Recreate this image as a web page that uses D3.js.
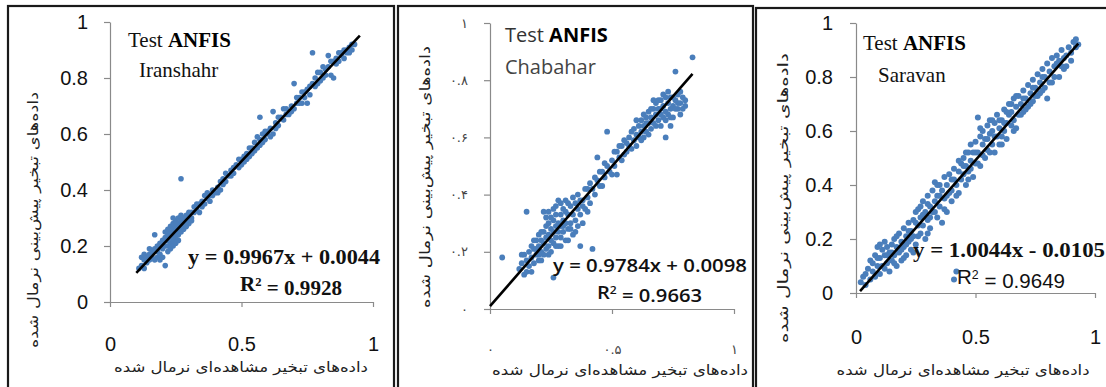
<!DOCTYPE html>
<html>
<head>
<meta charset="utf-8">
<script src="https://cdn.jsdelivr.net/npm/d3@7"></script>
<style>
  body { margin: 0; background: #fff; }
  svg { display: block; }
</style>
</head>
<body>
<div id="chart"></div>
<script>
var iranshahrPts = [
  [0.11,0.12],[0.12,0.13],[0.12,0.16],[0.13,0.15],[0.13,0.17],[0.14,0.14],[0.14,0.16],[0.15,0.17],[0.15,0.15],[0.16,0.18],
  [0.16,0.16],[0.17,0.24],[0.17,0.19],[0.18,0.16],[0.18,0.2],[0.19,0.17],[0.19,0.21],[0.2,0.19],[0.2,0.16],[0.21,0.13],
  [0.2,0.22],[0.21,0.2],[0.21,0.23],[0.22,0.2],[0.22,0.24],[0.22,0.22],[0.23,0.21],[0.23,0.25],[0.23,0.27],[0.24,0.22],
  [0.24,0.26],[0.24,0.24],[0.24,0.28],[0.25,0.23],[0.25,0.27],[0.25,0.25],[0.25,0.29],[0.26,0.24],[0.26,0.26],[0.26,0.3],
  [0.26,0.28],[0.27,0.25],[0.27,0.27],[0.27,0.29],[0.27,0.44],[0.28,0.27],[0.28,0.3],[0.28,0.26],[0.29,0.29],[0.29,0.31],
  [0.3,0.3],[0.3,0.28],[0.31,0.32],[0.31,0.3],[0.32,0.32],[0.32,0.34],[0.33,0.33],[0.34,0.35],[0.34,0.32],[0.35,0.36],
  [0.36,0.35],[0.36,0.38],[0.37,0.37],[0.38,0.38],[0.38,0.36],[0.39,0.4],[0.4,0.39],[0.41,0.41],[0.42,0.43],[0.42,0.4],
  [0.43,0.44],[0.44,0.43],[0.45,0.45],[0.46,0.47],[0.46,0.45],[0.47,0.46],[0.48,0.49],[0.49,0.48],[0.5,0.51],[0.5,0.49],
  [0.51,0.5],[0.52,0.53],[0.53,0.52],[0.54,0.55],[0.55,0.54],[0.55,0.57],[0.56,0.59],[0.56,0.55],[0.57,0.66],[0.57,0.58],
  [0.58,0.57],[0.58,0.6],[0.59,0.58],[0.6,0.61],[0.6,0.6],[0.61,0.62],[0.62,0.68],[0.62,0.6],[0.63,0.64],[0.64,0.63],
  [0.65,0.66],[0.66,0.69],[0.66,0.65],[0.67,0.67],[0.68,0.67],[0.69,0.7],[0.7,0.69],[0.7,0.78],[0.71,0.71],[0.72,0.73],
  [0.73,0.71],[0.74,0.75],[0.74,0.73],[0.75,0.71],[0.75,0.76],[0.76,0.74],[0.77,0.78],[0.77,0.89],[0.78,0.77],[0.78,0.8],
  [0.79,0.78],[0.8,0.82],[0.8,0.79],[0.81,0.8],[0.82,0.83],[0.82,0.81],[0.83,0.88],[0.83,0.84],[0.84,0.81],[0.85,0.8],
  [0.85,0.86],[0.86,0.85],[0.86,0.87],[0.87,0.86],[0.88,0.88],[0.88,0.89],[0.89,0.87],[0.9,0.9],[0.9,0.89],[0.91,0.91],
  [0.92,0.9],[0.92,0.92],[0.93,0.92],
  [0.13,0.12],[0.15,0.19],[0.17,0.15],[0.18,0.18],[0.19,0.15],[0.2,0.2],[0.21,0.25],[0.22,0.26],[0.22,0.18],[0.23,0.23],
  [0.23,0.19],[0.24,0.2],[0.24,0.3],[0.25,0.21],[0.26,0.22],[0.27,0.31],[0.28,0.28],[0.29,0.27],[0.3,0.32],[0.31,0.29],
  [0.33,0.35],[0.35,0.34],[0.37,0.39],[0.39,0.38],[0.41,0.39],[0.43,0.42],[0.44,0.46],[0.47,0.48],[0.49,0.51],[0.51,0.52],
  [0.52,0.51],[0.53,0.55],[0.54,0.53],[0.57,0.56],[0.59,0.61],[0.61,0.59],[0.63,0.62],[0.64,0.66],[0.67,0.69],[0.69,0.68],
  [0.71,0.73],[0.72,0.71],[0.73,0.75],[0.76,0.77],[0.79,0.82],[0.81,0.84],[0.84,0.86],[0.87,0.89],[0.89,0.9],[0.91,0.89]
];

var chabaharPts = [
  [0.05,0.18],[0.12,0.14],[0.13,0.16],[0.14,0.12],[0.14,0.19],[0.15,0.17],[0.15,0.34],[0.16,0.15],[0.16,0.2],[0.17,0.18],
  [0.17,0.22],[0.18,0.16],[0.18,0.21],[0.19,0.19],[0.19,0.24],[0.2,0.17],[0.2,0.22],[0.2,0.26],[0.21,0.2],[0.21,0.24],
  [0.22,0.19],[0.22,0.23],[0.22,0.27],[0.22,0.34],[0.23,0.21],[0.23,0.25],[0.23,0.29],[0.24,0.22],[0.24,0.26],[0.24,0.3],
  [0.25,0.2],[0.25,0.24],[0.25,0.28],[0.25,0.32],[0.26,0.11],[0.26,0.23],[0.26,0.27],[0.26,0.31],[0.27,0.25],[0.27,0.29],
  [0.27,0.36],[0.28,0.22],[0.28,0.27],[0.28,0.3],[0.28,0.38],[0.29,0.25],[0.29,0.29],[0.29,0.33],[0.3,0.27],[0.3,0.31],
  [0.3,0.35],[0.31,0.24],[0.31,0.3],[0.31,0.38],[0.32,0.28],[0.32,0.33],[0.33,0.3],[0.33,0.36],[0.34,0.26],[0.34,0.33],
  [0.35,0.31],[0.35,0.37],[0.36,0.29],[0.36,0.35],[0.37,0.22],[0.37,0.33],[0.38,0.38],[0.38,0.36],[0.39,0.35],[0.4,0.39],
  [0.4,0.42],[0.41,0.37],[0.42,0.21],[0.42,0.42],[0.43,0.4],[0.44,0.45],[0.44,0.53],[0.45,0.43],[0.46,0.48],[0.47,0.46],
  [0.48,0.62],[0.48,0.5],[0.49,0.48],[0.5,0.52],[0.51,0.5],[0.52,0.47],[0.52,0.55],[0.53,0.53],[0.54,0.57],[0.55,0.54],
  [0.56,0.58],[0.56,0.55],[0.57,0.6],[0.58,0.56],[0.58,0.62],[0.59,0.59],[0.6,0.61],[0.6,0.57],[0.61,0.64],[0.61,0.6],
  [0.62,0.62],[0.62,0.66],[0.63,0.6],[0.63,0.64],[0.64,0.67],[0.64,0.62],[0.65,0.65],[0.65,0.69],[0.66,0.63],[0.66,0.67],
  [0.67,0.7],[0.67,0.65],[0.68,0.68],[0.68,0.72],[0.68,0.64],[0.69,0.7],[0.69,0.66],[0.7,0.73],[0.7,0.68],[0.7,0.64],
  [0.71,0.71],[0.71,0.75],[0.72,0.69],[0.72,0.66],[0.72,0.6],[0.73,0.72],[0.73,0.68],[0.74,0.74],[0.74,0.7],[0.75,0.71],
  [0.75,0.67],[0.76,0.73],[0.76,0.83],[0.77,0.7],[0.77,0.75],[0.78,0.72],[0.78,0.68],[0.79,0.74],[0.8,0.71],[0.83,0.88],
  [0.13,0.19],[0.15,0.13],[0.17,0.13],[0.18,0.24],[0.19,0.21],[0.2,0.19],[0.21,0.27],[0.21,0.17],[0.23,0.32],[0.24,0.19],
  [0.24,0.34],[0.26,0.35],[0.27,0.22],[0.27,0.33],[0.29,0.37],[0.29,0.22],[0.3,0.29],[0.31,0.34],[0.32,0.37],[0.32,0.24],
  [0.33,0.28],[0.34,0.39],[0.35,0.27],[0.36,0.4],[0.37,0.38],[0.38,0.3],[0.39,0.42],[0.4,0.34],[0.41,0.44],[0.43,0.46],
  [0.45,0.48],[0.46,0.43],[0.47,0.51],[0.5,0.47],[0.51,0.55],[0.53,0.57],[0.54,0.52],[0.55,0.59],[0.57,0.57],[0.59,0.63],
  [0.6,0.66],[0.62,0.59],[0.63,0.68],[0.64,0.65],[0.65,0.61],[0.66,0.7],[0.67,0.73],[0.69,0.73],[0.7,0.7],[0.71,0.67],
  [0.72,0.74],[0.73,0.76],[0.74,0.67],[0.75,0.74],[0.76,0.7],[0.77,0.72],[0.78,0.76],[0.79,0.7],[0.8,0.73],[0.74,0.64]
];

var saravanPts = [
  [0.02,0.04],[0.03,0.06],[0.04,0.03],[0.05,0.09],[0.06,0.05],[0.06,0.12],[0.07,0.08],[0.08,0.14],[0.08,0.06],[0.09,0.1],
  [0.09,0.17],[0.1,0.13],[0.1,0.07],[0.11,0.16],[0.11,0.1],[0.12,0.14],[0.12,0.19],[0.13,0.11],[0.13,0.17],[0.14,0.15],
  [0.14,0.08],[0.15,0.18],[0.15,0.12],[0.16,0.2],[0.16,0.14],[0.17,0.17],[0.17,0.1],[0.18,0.22],[0.18,0.15],[0.19,0.19],
  [0.19,0.12],[0.2,0.24],[0.2,0.17],[0.21,0.21],[0.21,0.14],[0.22,0.26],[0.22,0.19],[0.23,0.23],[0.23,0.16],[0.24,0.27],
  [0.24,0.21],[0.25,0.3],[0.25,0.18],[0.26,0.25],[0.26,0.31],[0.27,0.22],[0.27,0.28],[0.28,0.34],[0.28,0.25],[0.29,0.3],
  [0.29,0.2],[0.3,0.36],[0.3,0.27],[0.31,0.32],[0.31,0.24],[0.32,0.38],[0.32,0.3],[0.33,0.41],[0.33,0.34],[0.34,0.28],
  [0.34,0.36],[0.35,0.4],[0.35,0.32],[0.36,0.26],[0.36,0.38],[0.37,0.43],[0.37,0.35],[0.38,0.4],[0.38,0.3],[0.39,0.44],
  [0.39,0.37],[0.4,0.42],[0.4,0.34],[0.41,0.05],[0.42,0.08],[0.41,0.46],[0.42,0.4],[0.43,0.45],[0.43,0.37],[0.44,0.48],
  [0.44,0.42],[0.45,0.5],[0.45,0.44],[0.46,0.47],[0.46,0.4],[0.47,0.52],[0.47,0.45],[0.48,0.55],[0.48,0.49],[0.49,0.43],
  [0.49,0.52],[0.5,0.56],[0.5,0.48],[0.51,0.65],[0.51,0.52],[0.52,0.58],[0.52,0.47],[0.53,0.55],[0.53,0.6],[0.54,0.5],
  [0.54,0.57],[0.55,0.62],[0.55,0.53],[0.56,0.59],[0.56,0.64],[0.57,0.55],[0.57,0.6],[0.58,0.63],[0.58,0.52],[0.59,0.58],
  [0.59,0.66],[0.6,0.61],[0.6,0.55],[0.61,0.64],[0.61,0.58],[0.62,0.68],[0.62,0.6],[0.63,0.63],[0.63,0.57],[0.64,0.66],
  [0.64,0.7],[0.65,0.62],[0.65,0.67],[0.66,0.72],[0.66,0.64],[0.67,0.69],[0.67,0.61],[0.68,0.73],[0.68,0.66],[0.69,0.7],
  [0.7,0.75],[0.7,0.67],[0.71,0.72],[0.72,0.77],[0.72,0.69],[0.73,0.74],[0.74,0.79],[0.74,0.71],[0.75,0.76],[0.76,0.81],
  [0.76,0.73],[0.77,0.78],[0.78,0.83],[0.78,0.75],[0.79,0.8],[0.8,0.85],[0.8,0.72],[0.81,0.82],[0.82,0.87],[0.82,0.78],
  [0.83,0.84],[0.84,0.88],[0.85,0.8],[0.85,0.86],[0.86,0.9],[0.87,0.83],[0.88,0.88],[0.89,0.91],[0.9,0.86],[0.91,0.93],
  [0.92,0.94],[0.93,0.92],
  [0.04,0.07],[0.07,0.11],[0.09,0.13],[0.1,0.18],[0.12,0.09],[0.13,0.14],[0.15,0.15],[0.16,0.11],[0.17,0.21],[0.19,0.16],
  [0.2,0.13],[0.21,0.18],[0.22,0.23],[0.23,0.2],[0.24,0.15],[0.25,0.26],[0.26,0.21],[0.27,0.32],[0.28,0.29],[0.3,0.22],
  [0.3,0.33],[0.31,0.28],[0.33,0.3],[0.34,0.4],[0.35,0.36],[0.37,0.31],[0.38,0.36],[0.4,0.38],[0.41,0.42],[0.42,0.36],
  [0.43,0.49],[0.45,0.47],[0.46,0.52],[0.47,0.42],[0.48,0.46],[0.5,0.52],[0.51,0.48],[0.52,0.61],[0.53,0.51],[0.55,0.57],
  [0.56,0.52],[0.57,0.64],[0.58,0.58],[0.6,0.64],[0.61,0.55],[0.62,0.63],[0.63,0.67],[0.65,0.7],[0.66,0.6],[0.67,0.73],
  [0.69,0.66],[0.7,0.72],[0.71,0.68],[0.73,0.7],[0.74,0.76],[0.75,0.73],[0.77,0.74],[0.78,0.8],[0.79,0.76],[0.81,0.78],
  [0.83,0.8],[0.84,0.85],[0.86,0.84],[0.87,0.87],[0.88,0.84],[0.9,0.89],[0.92,0.91]
];

var stations = ["Iranshahr", "Chabahar", "Saravan"];
var slopes = [0.9967, 0.9784, 1.0044];
var intercepts = [0.0044, 0.0098, -0.0105];
var equations = ["y = 0.9967x + 0.0044", "y = 0.9784x + 0.0098", "y = 1.0044x - 0.0105"];
var r2Values = ["0.9928", "0.9663", "0.9649"];
var fitRanges = [[0.10, 0.95], [0, 0.83], [0.017, 0.93]];

var xTicks = [0, 0.5, 1];
var yTicks = [0, 0.2, 0.4, 0.6, 0.8, 1];
var xTickLabels = [["0", "0.5", "1"], ["۰", "۰.۵", "۱"], ["0", "0.5", "1"]];
var yTickLabels = [
  ["0", "0.2", "0.4", "0.6", "0.8", "1"],
  ["۰", "۰.۲", "۰.۴", "۰.۶", "۰.۸", "۱"],
  ["0", "0.2", "0.4", "0.6", "0.8", "1"]
];
var xTitle = "داده‌های تبخیر مشاهده‌ای نرمال شده";
var yTitle = "داده‌های تبخیر پیش‌بینی نرمال شده";

var allPts = [iranshahrPts, chabaharPts, saravanPts];

// panel geometry and looks
var layout = [
  { frame: [8, 6, 386, 400], x: [110, 373], y: [302, 22], xPad: 30, yPad: 16,
    tickFont: "'Liberation Sans', Arial, sans-serif", tickSize: 20, tickColor: "#111",
    yTitlePos: [33, 220, 256], xTitlePos: [241, 372, 254],
    head: { font: "'Liberation Serif', serif", size: 21, x: 128, y: 47, sub: [139, 77], color: "#111" },
    eq: { font: "'Liberation Serif', serif", weight: "bold", size: 20, x: 188, y: 264, len: 192,
          r: [240, 291], rlen: 102, rfont: "'Liberation Serif', serif", rweight: "bold" },
    dot: 2.8 },
  { frame: [398, 6, 355, 400], x: [490, 734], y: [309, 23], xPad: 31, yPad: 16,
    tickFont: "'DejaVu Sans', sans-serif", tickSize: 13, tickColor: "#444",
    yTitlePos: [425, 177, 262], xTitlePos: [620, 375, 256],
    head: { font: "'Open Sans', sans-serif", size: 20, x: 505, y: 42, sub: [505, 74], color: "#333" },
    eq: { font: "'Open Sans', sans-serif", weight: "600", size: 18, x: 553, y: 272, len: 194,
          r: [597, 299], rlen: 105, rfont: "'Open Sans', sans-serif", rweight: "600" },
    dot: 2.9 },
  { frame: [756, 8, 380, 400], x: [856, 1095], y: [293, 23], xPad: 32, yPad: 17,
    tickFont: "'Liberation Sans', Arial, sans-serif", tickSize: 20, tickColor: "#111",
    yTitlePos: [783, 198, 290], xTitlePos: [963, 375, 253],
    head: { font: "'Liberation Serif', serif", size: 21, x: 863, y: 50, sub: [878, 82], color: "#111" },
    eq: { font: "'Liberation Serif', serif", weight: "bold", size: 20, x: 913, y: 257, len: 192,
          r: [957, 284], rlen: 108, rfont: "'Liberation Sans', Arial, sans-serif", rweight: "normal" },
    dot: 3 }
];

var svg = d3.select("#chart").append("svg")
  .attr("width", 1106)
  .attr("height", 387);

svg.append("rect").attr("width", 1106).attr("height", 387).attr("fill", "#fff");

stations.forEach(function(name, i) {
  var L = layout[i];
  var g = svg.append("g");

  g.append("rect")
    .attr("x", L.frame[0]).attr("y", L.frame[1])
    .attr("width", L.frame[2]).attr("height", L.frame[3])
    .attr("fill", "#fff")
    .attr("stroke", "#1a1a1a")
    .attr("stroke-width", 2.2);

  var x = d3.scaleLinear().domain([0, 1]).range(L.x),
      y = d3.scaleLinear().domain([0, 1]).range(L.y);

  var xAxis = g.append("g")
    .attr("transform", "translate(0," + L.y[0] + ")")
    .call(d3.axisBottom(x).tickValues(xTicks).tickSize(5).tickSizeOuter(0)
      .tickPadding(L.xPad)
      .tickFormat(function(d, j) { return xTickLabels[i][j]; }));

  var yAxis = g.append("g")
    .attr("transform", "translate(" + L.x[0] + ",0)")
    .call(d3.axisLeft(y).tickValues(yTicks).tickSize(6).tickSizeOuter(0)
      .tickPadding(L.yPad)
      .tickFormat(function(d, j) { return yTickLabels[i][j]; }));

  [xAxis, yAxis].forEach(function(a) {
    a.select(".domain").attr("stroke", "#8a8a8a").attr("stroke-width", 1.2);
    a.selectAll(".tick line").attr("stroke", "#8a8a8a").attr("stroke-width", 1.2);
    a.selectAll(".tick text")
      .attr("fill", L.tickColor)
      .style("font-family", L.tickFont)
      .style("font-size", L.tickSize + "px");
  });

  // points
  g.append("g").selectAll("circle")
    .data(allPts[i])
    .enter().append("circle")
    .attr("cx", function(d) { return x(d[0]); })
    .attr("cy", function(d) { return y(d[1]); })
    .attr("r", L.dot)
    .attr("fill", "#4a7ebb");

  // linear trend line
  var line = d3.line()
    .x(function(d) { return x(d); })
    .y(function(d) { return y(slopes[i] * d + intercepts[i]); });

  g.append("path")
    .datum(fitRanges[i])
    .attr("fill", "none")
    .attr("stroke", "#000")
    .attr("stroke-width", 2.6)
    .attr("d", line);

  // titles
  var h = L.head;
  var t = g.append("text")
    .attr("x", h.x).attr("y", h.y)
    .style("font-family", h.font)
    .style("font-size", h.size + "px")
    .attr("fill", h.color);
  t.append("tspan").text("Test ");
  t.append("tspan").attr("font-weight", "bold").attr("fill", "#000").text("ANFIS");

  g.append("text")
    .attr("x", h.sub[0]).attr("y", h.sub[1])
    .style("font-family", h.font)
    .style("font-size", h.size + "px")
    .attr("fill", i === 1 ? "#444" : "#111")
    .text(name);

  // equation
  var e = L.eq;
  g.append("text")
    .attr("x", e.x).attr("y", e.y)
    .attr("textLength", e.len)
    .attr("lengthAdjust", "spacingAndGlyphs")
    .style("font-family", e.font)
    .style("font-weight", e.weight)
    .style("font-size", e.size + "px")
    .attr("fill", "#111")
    .text(equations[i]);

  var rt = g.append("text")
    .attr("x", e.r[0]).attr("y", e.r[1])
    .attr("textLength", e.rlen)
    .attr("lengthAdjust", "spacingAndGlyphs")
    .style("font-family", e.rfont)
    .style("font-weight", e.rweight)
    .style("font-size", e.size + "px")
    .attr("fill", "#111");
  rt.append("tspan").text("R");
  rt.append("tspan").attr("dy", "-0.45em").style("font-size", "0.6em").text("2");
  rt.append("tspan").attr("dy", "0.45em").text(" = " + r2Values[i]);

  // axis titles (Persian)
  g.append("text")
    .attr("text-anchor", "middle")
    .attr("direction", "rtl")
    .attr("transform", "translate(" + L.xTitlePos[0] + "," + L.xTitlePos[1] + ")")
    .attr("textLength", L.xTitlePos[2])
    .attr("lengthAdjust", "spacingAndGlyphs")
    .style("font-family", "'DejaVu Sans', sans-serif")
    .style("font-size", "14px")
    .attr("fill", "#222")
    .text(xTitle);

  g.append("text")
    .attr("text-anchor", "middle")
    .attr("direction", "rtl")
    .attr("transform", "translate(" + L.yTitlePos[0] + "," + L.yTitlePos[1] + ") rotate(-90)")
    .attr("dy", "0.35em")
    .attr("textLength", L.yTitlePos[2])
    .attr("lengthAdjust", "spacingAndGlyphs")
    .style("font-family", "'DejaVu Sans', sans-serif")
    .style("font-size", "14px")
    .attr("fill", "#222")
    .text(yTitle);
});
</script>
</body>
</html>
